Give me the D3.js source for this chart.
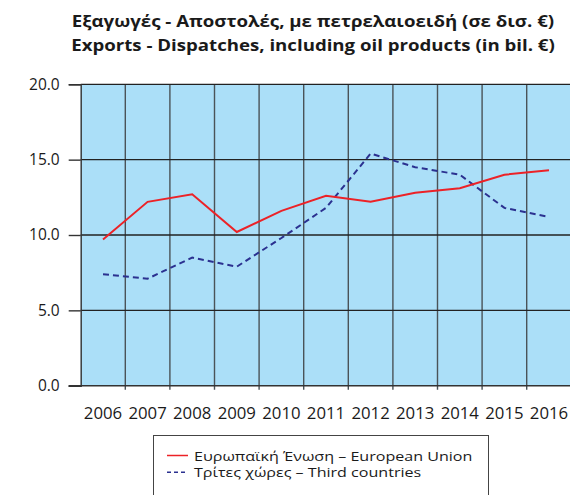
<!DOCTYPE html>
<html>
<head>
<meta charset="utf-8">
<script src="https://cdn.jsdelivr.net/npm/d3@7"></script>
<style>
  body { margin: 0; background: #fff; }
  svg { display: block; font-family: "Open Sans", sans-serif; }
</style>
</head>
<body>
<svg id="chart" width="570" height="495"></svg>
<script>
// Exports - Dispatches incl. oil products, billion €
const years = ["2006","2007","2008","2009","2010","2011","2012","2013","2014","2015","2016"];
const euValues = [9.7, 12.2, 12.7, 10.2, 11.6, 12.6, 12.2, 12.8, 13.1, 14.0, 14.3];
const thirdValues = [7.4, 7.1, 8.5, 7.9, 9.8, 11.8, 15.4, 14.5, 14.0, 11.8, 11.2];
const yTicks = [0, 5, 10, 15, 20];
const titleLines = [
  "Εξαγωγές - Αποστολές, με πετρελαιοειδή (σε δισ. €)",
  "Exports - Dispatches, including oil products (in bil. €)"
];
const legendLabels = [
  "Ευρωπαϊκή Ένωση – European Union",
  "Τρίτες χώρες – Third countries"
];

const svg = d3.select("#chart");
const plotL = 80.7, plotR = 571.3, plotT = 84.3, plotB = 385.7;

const x = d3.scaleBand().domain(years).range([plotL, plotR]).paddingInner(0).paddingOuter(0);
const y = d3.scaleLinear().domain([0, 20]).range([plotB, plotT]);

// Widen text glyphs horizontally by a factor
function widen(sel, k) {
  sel.each(function () {
    const w = this.getComputedTextLength();
    d3.select(this).attr("textLength", w * k).attr("lengthAdjust", "spacingAndGlyphs");
  });
}

// Title
svg.append("g").selectAll("text").data(titleLines).join("text")
  .attr("x", 313).attr("y", (d, i) => 27.3 + i * 23.4)
  .attr("text-anchor", "middle")
  .attr("font-size", 16).attr("font-weight", "bold").attr("fill", "#1a1a1a")
  .text(d => d)
  .call(widen, 1.165);

// Plot background
svg.append("rect")
  .attr("x", plotL).attr("y", plotT)
  .attr("width", plotR - plotL).attr("height", plotB - plotT)
  .attr("fill", "#ABDFF8");

// Vertical gridlines at band boundaries
const bounds = years.map(d => x(d)).concat([plotR]);
svg.append("g").selectAll("line").data(bounds.slice(1)).join("line")
  .attr("x1", d => d).attr("x2", d => d)
  .attr("y1", plotT).attr("y2", plotB + 4)
  .attr("stroke", "#4a5358").attr("stroke-width", 1.4);

// Horizontal gridlines
svg.append("g").selectAll("line").data(yTicks.slice(1)).join("line")
  .attr("x1", plotL).attr("x2", plotR)
  .attr("y1", d => y(d)).attr("y2", d => y(d))
  .attr("stroke", "#222").attr("stroke-width", 1.3);

// Y axis
const yAxis = svg.append("g").attr("transform", `translate(${plotL},0)`)
  .call(d3.axisLeft(y).tickValues(yTicks).tickSize(12).tickPadding(9).tickFormat(d3.format(".1f")));
yAxis.select(".domain").attr("stroke", "#333").attr("stroke-width", 1.4);
yAxis.selectAll(".tick line").attr("stroke", "#333").attr("stroke-width", 1.4);
yAxis.selectAll("text").attr("font-size", 15.5).attr("fill", "#1a1a1a")
  .attr("font-family", "'Open Sans', sans-serif");

// X axis baseline and labels
svg.append("line")
  .attr("x1", plotL - 12).attr("x2", plotR)
  .attr("y1", plotB).attr("y2", plotB)
  .attr("stroke", "#333").attr("stroke-width", 1.4);
svg.append("g").selectAll("text").data(years).join("text")
  .attr("x", d => x(d) + x.bandwidth() / 2).attr("y", 419)
  .attr("text-anchor", "middle").attr("font-size", 15.5).attr("fill", "#1a1a1a")
  .text(d => d)
  .call(widen, 1.08);

// Series lines
const line = d3.line().x((d, i) => x(years[i]) + x.bandwidth() / 2).y(d => y(d));
svg.append("path").datum(thirdValues)
  .attr("d", line).attr("fill", "none")
  .attr("stroke", "#2b3190").attr("stroke-width", 2).attr("stroke-dasharray", "6,4");
svg.append("path").datum(euValues)
  .attr("d", line).attr("fill", "none")
  .attr("stroke", "#ec2227").attr("stroke-width", 2);

// Legend
const lg = svg.append("g");
lg.append("rect").attr("x", 153.5).attr("y", 435.5).attr("width", 335).attr("height", 80)
  .attr("fill", "#fff").attr("stroke", "#444").attr("stroke-width", 1);
const legendStyles = [
  { color: "#ec2227", dash: null },
  { color: "#2b3190", dash: "4,3" }
];
legendLabels.forEach((t, i) => {
  const base = 460.5 + i * 16.7;
  const cy = base - 5;
  lg.append("line").attr("x1", 167).attr("x2", 188).attr("y1", cy).attr("y2", cy)
    .attr("stroke", legendStyles[i].color).attr("stroke-width", 1.5)
    .attr("stroke-dasharray", legendStyles[i].dash);
  lg.append("text").attr("x", 194).attr("y", base)
    .attr("font-size", 13.5).attr("fill", "#1a1a1a").text(t)
    .call(widen, 1.19);
});
</script>
</body>
</html>
